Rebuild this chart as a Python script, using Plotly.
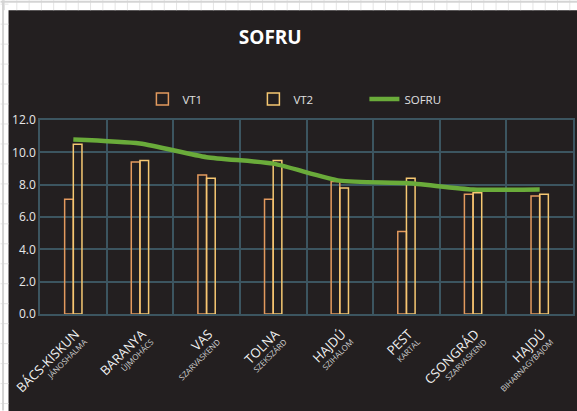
import plotly.graph_objects as go

# ---- data ----
counties = ["BÁCS-KISKUN", "BARANYA", "VAS", "TOLNA", "HAJDÚ", "PEST", "CSONGRÁD", "HAJDÚ"]
towns = ["JÁNOSHALMA", "ÚJMOHÁCS", "SZARVASKEND", "SZEKSZÁRD", "SZIHALOM", "KARTAL", "SZARVASKEND", "BIHARNAGYBAJOM"]
vt1 = [7.1, 9.4, 8.6, 7.1, 8.2, 5.1, 7.4, 7.3]
vt2 = [10.5, 9.5, 8.4, 9.5, 7.8, 8.4, 7.5, 7.4]
sofru = [10.8, 10.55, 9.7, 9.3, 8.25, 8.1, 7.7, 7.7]
y_ticks = [0, 2, 4, 6, 8, 10, 12]

# ---- layout constants (pixels) ----
W, H = 577, 411
ML, MR, MT, MB = 39.5, 4, 120, 96.7
PW, PH = W - ML - MR, H - MT - MB
BG = "#231f20"
GRID = "#3c5560"

def px_x(px):
    return (px - ML) / PW

def px_y(py):
    return (H - MB - py) / PH

keys = [f"c{i}" for i in range(len(counties))]
ticktext = [f"<span style='font-size:13px;color:#f2f2f2'>{c}</span><br>{t}" for c, t in zip(counties, towns)]

fig = go.Figure()
fig.add_trace(go.Bar(
    x=keys, y=vt1, name="VT1",
    marker=dict(color="rgba(0,0,0,0)", line=dict(color="#e39a5e", width=1.5)),
))
fig.add_trace(go.Bar(
    x=keys, y=vt2, name="VT2",
    marker=dict(color="rgba(0,0,0,0)", line=dict(color="#f6c872", width=1.5)),
))
fig.add_trace(go.Scatter(
    x=keys, y=sofru, name="SOFRU", mode="lines",
    line=dict(color="#6aab3a", width=4.5, shape="spline", smoothing=0.6),
))

shapes = [dict(type="rect", xref="paper", yref="paper", layer="below",
               x0=px_x(8), x1=px_x(W + 5), y0=px_y(H + 5), y1=px_y(10),
               fillcolor=BG, line=dict(width=0))]
# spreadsheet cell lines around the chart
for i in range(48):
    xx = 4 + i * 12.3
    shapes.append(dict(type="line", xref="paper", yref="paper", layer="below",
                       x0=px_x(xx), x1=px_x(xx), y0=px_y(10), y1=px_y(0),
                       line=dict(color="#e4e4e4", width=1)))
for i in range(21):
    yy = 4 + i * 20
    shapes.append(dict(type="line", xref="paper", yref="paper", layer="below",
                       x0=px_x(0), x1=px_x(8), y0=px_y(yy), y1=px_y(yy),
                       line=dict(color="#e4e4e4", width=1)))
shapes.append(dict(type="line", xref="paper", yref="paper", layer="below",
                   x0=px_x(0), x1=px_x(W), y0=px_y(1.5), y1=px_y(1.5),
                   line=dict(color="#d4d4d4", width=2)))
shapes.append(dict(type="line", xref="paper", yref="paper", layer="below",
                   x0=px_x(2.5), x1=px_x(2.5), y0=px_y(H), y1=px_y(0),
                   line=dict(color="#d4d4d4", width=2)))

fig.update_layout(
    width=W, height=H,
    margin=dict(l=ML, r=MR, t=MT, b=MB, pad=0, autoexpand=False),
    paper_bgcolor="#ffffff",
    plot_bgcolor=BG,
    font=dict(family="Open Sans, Noto Sans, sans-serif", color="#e8e8e8"),
    title=dict(text="<b>SOFRU</b>", font=dict(size=19, color="#ffffff"),
               x=px_x(270), xref="paper", xanchor="center",
               y=1 - 37 / H, yref="container", yanchor="middle"),
    barmode="group", bargap=0.74, bargroupgap=0,
    showlegend=True,
    legend=dict(orientation="h", x=px_x(142), xanchor="left",
                y=px_y(99), yanchor="middle",
                entrywidth=66, entrywidthmode="pixels",
                font=dict(size=11.5, color="#e0e0e0"),
                bgcolor="rgba(0,0,0,0)", traceorder="normal"),
    shapes=shapes,
    xaxis=dict(
        type="category", tickmode="array",
        tickvals=keys, ticktext=ticktext, automargin=False,
        tickangle=-45, tickson="boundaries", ticks="",
        ticklabelstandoff=11, ticklabelshift=4,
        tickfont=dict(size=8, color="#cfcfcf"),
        showgrid=True, gridcolor=GRID, gridwidth=1.5,
        showline=True, linecolor=GRID, linewidth=1.5, mirror=True,
        range=[-0.5, len(keys) - 0.5],
    ),
    yaxis=dict(
        range=[0, 12], tickvals=y_ticks, tickformat=".1f", automargin=False,
        tickfont=dict(size=12, color="#e8e8e8"),
        showgrid=True, gridcolor=GRID, gridwidth=1.5,
        showline=True, linecolor=GRID, linewidth=1.5, mirror=True,
        zeroline=False, ticks="",
    ),
)

fig.write_html("out.html", config={"displayModeBar": False},
               post_script="document.body.style.margin='0px';document.body.style.overflow='hidden';")
